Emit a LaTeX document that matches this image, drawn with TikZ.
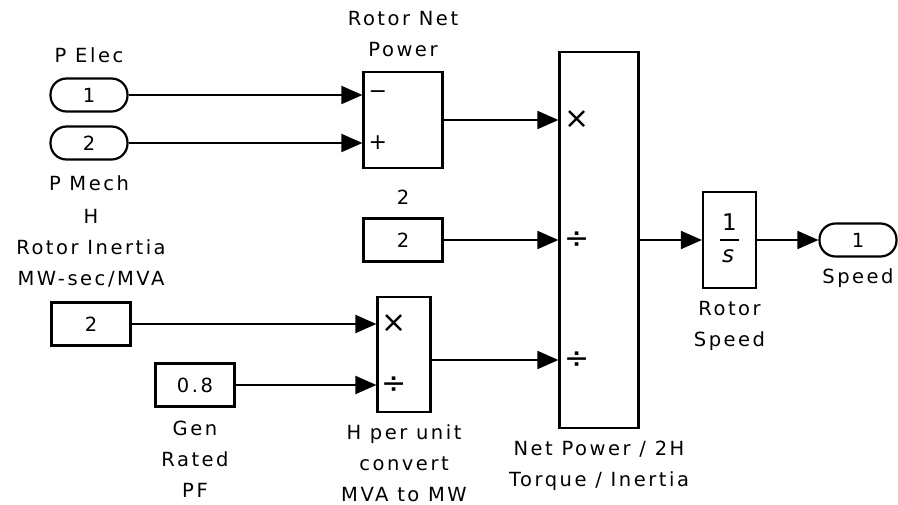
\documentclass[tikz,border=0pt]{standalone}
\usepackage{fontspec}
\setmainfont{DejaVu Sans}[LetterSpace=13]
\usetikzlibrary{positioning, calc, arrows.meta}

\begin{document}
\begin{tikzpicture}[
    x=1pt, y=-1pt,
    font=\fontsize{19.5}{31}\selectfont,
    blk/.style={draw, line width=2.2pt, inner sep=0pt, minimum width=79pt, minimum height=43pt},
    port/.style={blk, rounded corners=16pt, minimum width=77pt, minimum height=33pt},
    lbl/.style={inner sep=0pt, align=center},
    sgn/.style={inner sep=0pt, anchor=west, xshift=6pt, font=\fontsize{30}{30}\selectfont},
    arr/.style={-{Triangle[length=21pt,width=18pt]}, line width=2pt},
]
\useasboundingbox (0,0) rectangle (898,505);

% Inputs
\node[port] (pelec) at (89,95) {1};
\node[lbl, above=14pt of pelec] (pelecl) {P Elec};
\node[port] (pmech) at (89,143) {2};
\node[lbl, below=15pt of pmech] (pmechl) {P Mech};

% Rotor net power
\node[blk, minimum height=96pt] (netpow) at (403,120) {};
\node[lbl, above=14pt of netpow] (netpowl) {Rotor Net\\Power};
\node[sgn, font=\fontsize{22}{22}\selectfont] (minus) at (netpow.west |- pelec) {−};
\node[sgn, font=\fontsize{22}{22}\selectfont] (plus) at (netpow.west |- pmech) {+};
\draw[arr] (pelec) -- (pelec -| netpow.west);
\draw[arr] (pmech) -- (pmech -| netpow.west);

% Constants
\node[blk] (gain) at (403,240) {2};
\node[lbl, above=13pt of gain] (gainl) {2};

\node[blk] (hin) at (91,324) {2};
\node[lbl, above=14pt of hin] (hinl) {H\\Rotor Inertia\\MW-sec/MVA};

\node[blk] (pf) at (195,385) {0.8};
\node[lbl, below=13pt of pf] (pfl) {Gen\\Rated\\PF};

% H per unit
\node[blk, minimum width=53pt, minimum height=115pt] (hpu) at (404,354.5) {};
\node[lbl, below=11pt of hpu] (hpul) {H per unit\\convert\\MVA to MW};
\node[sgn, xshift=-1pt] (hmul) at (hpu.west |- hin) {×};
\node[sgn, xshift=-1pt] (hdiv) at (hpu.west |- pf) {÷};
\draw[arr] (hin) -- (hin -| hpu.west);
\draw[arr] (pf) -- (pf -| hpu.west);

% Net power / 2H
\node[blk, minimum height=376pt] (torq) at (599,240) {};
\node[lbl, below=12pt of torq] (torql) {Net Power / 2H\\Torque / Inertia};
\coordinate (tin1) at (torq.west |- netpow.east);
\coordinate (tin2) at (torq.west |- gain);
\coordinate (tin3) at ($(torq.west)+(0,120)$);
\node[sgn] (tmul) at (tin1) {×};
\node[sgn] (tdiv1) at (tin2) {÷};
\node[sgn] (tdiv2) at (tin3) {÷};
\draw[arr] (netpow) -- (tin1);
\draw[arr] (gain) -- (tin2);
\draw[arr] (hpu.east |- tin3) -- (tin3);

% Integrator
\node[blk, minimum width=53pt, minimum height=96pt, font=\fontsize{23}{31}\selectfont] (integ) at (729.5,240)
    {\begin{tabular}{@{}c@{}}1\\[-20pt]\rule{19pt}{2pt}\\[-10pt]\textit{s}\end{tabular}};
\node[lbl, below=12pt of integ] (integl) {Rotor\\Speed};
\draw[arr] (torq) -- (integ);

% Output
\node[port] (speed) at (858,240) {1};
\node[lbl, below=11pt of speed] (speedl) {Speed};
\draw[arr] (integ) -- (speed);

\end{tikzpicture}
\end{document}
